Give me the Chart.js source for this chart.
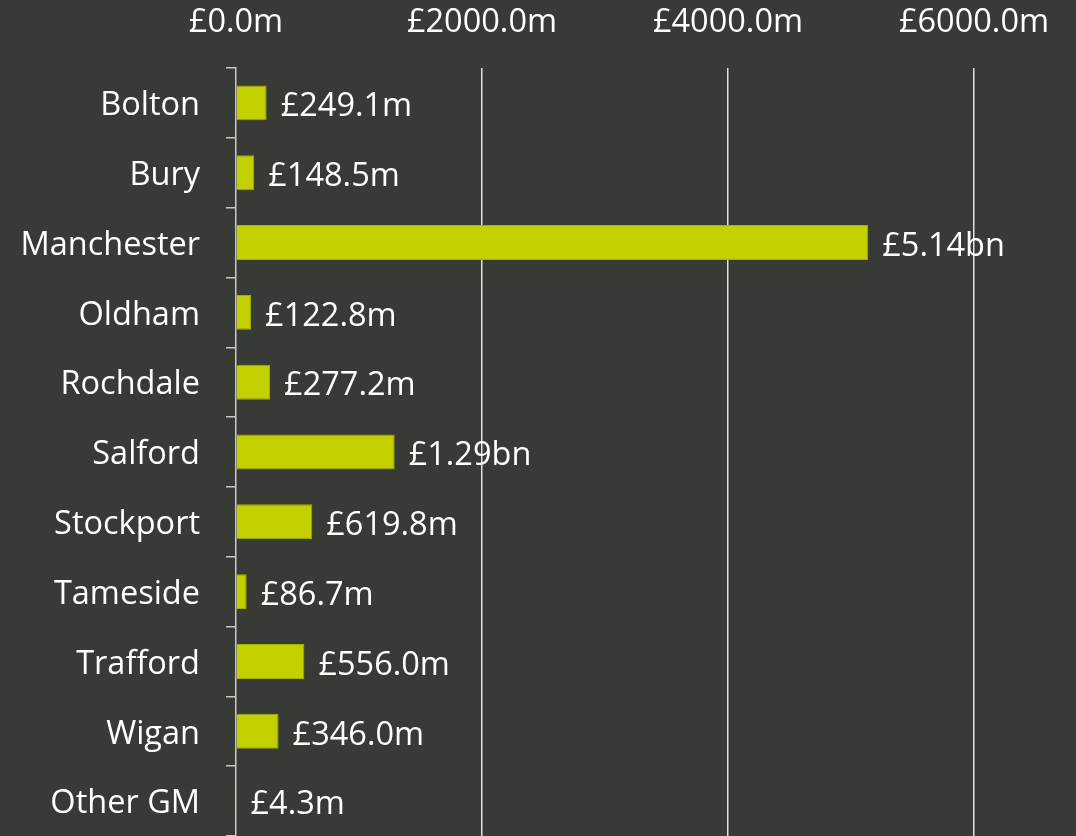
<!DOCTYPE html>
<html>
<head>
<meta charset="utf-8">
<script src="https://cdn.jsdelivr.net/npm/chart.js@4/dist/chart.umd.min.js"></script>
<style>
html,body{margin:0;padding:0;background:#383a35;overflow:hidden;}
canvas{display:block;}
</style>
</head>
<body>
<canvas id="c" width="1076" height="836"></canvas>
<script>
const categories = ["Bolton","Bury","Manchester","Oldham","Rochdale","Salford","Stockport","Tameside","Trafford","Wigan","Other GM"];
const valuesMillions = [249.1,148.5,5140,122.8,277.2,1290,619.8,86.7,556.0,346.0,4.3];
const xTickValues = [0,2000,4000,6000];

const FONT = "'Open Sans', sans-serif";
const TEXT = "#ffffff";

function fmtLabel(v){
  if (v >= 1000) return "£" + (v/1000).toFixed(2) + "bn";
  return "£" + v.toFixed(1) + "m";
}

const valueLabels = {
  id: "valueLabels",
  afterDatasetsDraw(chart){
    const ctx = chart.ctx;
    const meta = chart.getDatasetMeta(0);
    ctx.save();
    ctx.font = "32.5px " + FONT;
    ctx.fillStyle = TEXT;
    ctx.textAlign = "left";
    ctx.textBaseline = "middle";
    meta.data.forEach((bar, i) => {
      ctx.fillText(fmtLabel(valuesMillions[i]), bar.x + 14, bar.y + 4);
    });
    ctx.restore();
  }
};

new Chart(document.getElementById("c"), {
  type: "bar",
  data: {
    labels: categories,
    datasets: [{
      data: valuesMillions,
      backgroundColor: "#c3d000",
      borderColor: "#a6b000",
      borderWidth: 1,
      barPercentage: 0.5,
      categoryPercentage: 1.0
    }]
  },
  options: {
    indexAxis: "y",
    responsive: false,
    animation: false,
    layout: { padding: { left: 0, right: 102, top: 0, bottom: 0 } },
    plugins: { legend: { display: false }, tooltip: { enabled: false } },
    scales: {
      x: {
        position: "top",
        min: 0,
        max: 6000,
        afterBuildTicks(axis){ axis.ticks = xTickValues.map(v => ({value: v})); },
        afterFit(axis){ axis.height = 68; axis.paddingLeft = 0; axis.paddingRight = 0; },
        ticks: {
          color: TEXT,
          font: { family: FONT, size: 32.5 },
          padding: 26,
          callback: v => "£" + Number(v).toFixed(1) + "m"
        },
        grid: {
          color: ctx => ctx.tick && ctx.tick.value === 0 ? "rgba(0,0,0,0)" : "#e0e0e0",
          lineWidth: 1.5,
          drawTicks: false
        },
        border: { display: false }
      },
      y: {
        afterFit(axis){ axis.width = 236; axis.paddingTop = 0; axis.paddingBottom = 0; },
        ticks: {
          color: TEXT,
          font: { family: FONT, size: 32.5 },
          padding: 26,
          labelOffset: 3
        },
        grid: {
          offset: true,
          drawOnChartArea: false,
          drawTicks: true,
          tickLength: 10,
          color: "#c8c8c8",
          lineWidth: 1.5
        },
        border: { display: true, color: "#c8c8c8", width: 1.5 }
      }
    }
  },
  plugins: [valueLabels]
});
</script>
</body>
</html>
